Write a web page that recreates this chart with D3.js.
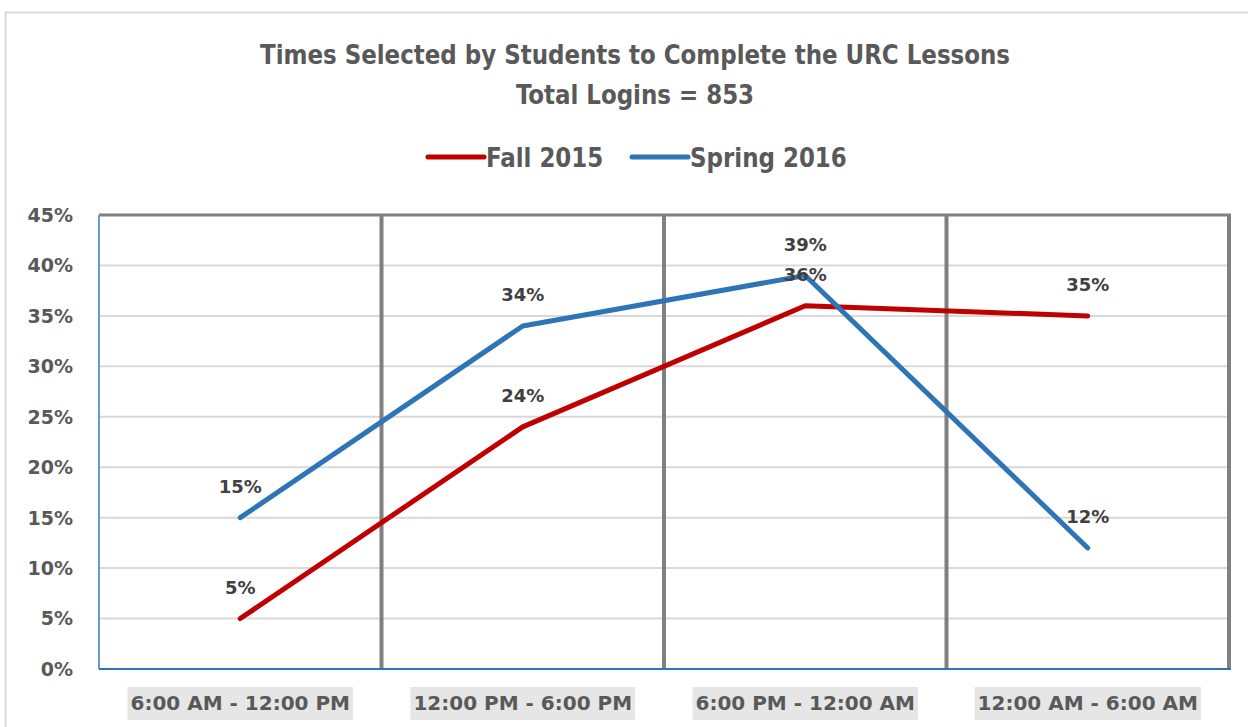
<!DOCTYPE html>
<html lang="en">
<head>
<meta charset="UTF-8">
<title>Times Selected by Students</title>
<script src="https://d3js.org/d3.v7.min.js"></script>
<style>
  body { margin: 0; background: #fff; }
  svg { display: block; }
</style>
</head>
<body>
<div id="chart"></div>
<script>
// data
const categories = ["6:00 AM - 12:00 PM", "12:00 PM - 6:00 PM", "6:00 PM - 12:00 AM", "12:00 AM - 6:00 AM"];
const fall2015 = [5, 24, 36, 35];
const spring2016 = [15, 34, 39, 12];
const yTicks = [0, 5, 10, 15, 20, 25, 30, 35, 40, 45];
const seriesNames = ["Fall 2015", "Spring 2016"];
const seriesColors = ["#c00000", "#2e75b6"];

const W = 1248, H = 727;
const plot = { left: 99, right: 1229, top: 215, bottom: 669 };
const narrow = "'Liberation Sans Narrow', 'DejaVu Sans Condensed', sans-serif";
const wide = "'DejaVu Sans', Verdana, sans-serif";

const svg = d3.select("#chart").append("svg")
    .attr("width", W).attr("height", H);

// squeeze condensed text a bit so it looks like Calibri
function condense(sel, ratio) {
    sel.each(function () {
        const w = this.getComputedTextLength();
        d3.select(this).attr("textLength", w * ratio).attr("lengthAdjust", "spacingAndGlyphs");
    });
}

// outer chart frame
svg.append("rect")
    .attr("x", 5.5).attr("y", 12.5)
    .attr("width", W + 20).attr("height", H + 20)
    .attr("fill", "white").attr("stroke", "#d9d9d9").attr("stroke-width", 2);

// titles
const titles = svg.append("g")
    .selectAll("text")
    .data(["Times Selected by Students to Complete the URC Lessons", "Total Logins = 853"])
    .join("text")
    .attr("x", 635).attr("y", (d, i) => 64 + i * 40)
    .attr("text-anchor", "middle")
    .style("font-family", narrow).style("font-weight", "bold")
    .style("font-size", "27px").attr("fill", "#595959")
    .text(d => d);
condense(titles, 0.945);

// scales
const x = d3.scaleBand().domain(categories).range([plot.left, plot.right]);
const y = d3.scaleLinear().domain([0, 45]).range([plot.bottom, plot.top]);

// horizontal gridlines
svg.append("g")
    .selectAll("line")
    .data(yTicks.filter(t => t > 0 && t < 45))
    .join("line")
    .attr("x1", plot.left).attr("x2", plot.right)
    .attr("y1", d => y(d)).attr("y2", d => y(d))
    .attr("stroke", "#d9d9d9").attr("stroke-width", 2);

// top border
svg.append("line")
    .attr("x1", plot.left).attr("x2", plot.right + 2)
    .attr("y1", y(45)).attr("y2", y(45))
    .attr("stroke", "#808080").attr("stroke-width", 3);

// vertical separators between categories
svg.append("g")
    .selectAll("line")
    .data(categories)
    .join("line")
    .attr("x1", d => x(d) + x.bandwidth()).attr("x2", d => x(d) + x.bandwidth())
    .attr("y1", plot.top).attr("y2", plot.bottom)
    .attr("stroke", "#808080").attr("stroke-width", 4);

// left axis line
svg.append("line")
    .attr("x1", plot.left).attr("x2", plot.left)
    .attr("y1", plot.top).attr("y2", plot.bottom)
    .attr("stroke", "#6a9ccc").attr("stroke-width", 2);

// bottom axis line
svg.append("line")
    .attr("x1", plot.left).attr("x2", plot.right + 2)
    .attr("y1", plot.bottom).attr("y2", plot.bottom)
    .attr("stroke", "#2e75b6").attr("stroke-width", 2);

// y tick labels
svg.append("g")
    .selectAll("text")
    .data(yTicks)
    .join("text")
    .attr("x", 73).attr("y", d => y(d))
    .attr("dy", "0.36em")
    .attr("text-anchor", "end")
    .style("font-family", wide).style("font-weight", "bold")
    .style("font-size", "19px").attr("fill", "#595959")
    .text(d => d + "%");

// category labels with grey boxes
const catG = svg.append("g")
    .selectAll("g")
    .data(categories)
    .join("g")
    .attr("transform", d => `translate(${x(d) + x.bandwidth() / 2}, 703)`);
catG.append("text")
    .attr("text-anchor", "middle")
    .attr("dy", "0.36em")
    .style("font-family", wide).style("font-weight", "bold")
    .style("font-size", "20px").attr("fill", "#595959")
    .text(d => d);
catG.each(function () {
    const t = d3.select(this).select("text");
    const w = t.node().getComputedTextLength();
    d3.select(this).insert("rect", "text")
        .attr("x", -w / 2 - 3).attr("y", -16)
        .attr("width", w + 6).attr("height", 33)
        .attr("fill", "#e6e6e6");
});

// lines
const line = d3.line()
    .x((d, i) => x(categories[i]) + x.bandwidth() / 2)
    .y(d => y(d));

const seriesData = [fall2015, spring2016];
seriesData.forEach((vals, s) => {
    svg.append("path")
        .datum(vals)
        .attr("d", line)
        .attr("fill", "none")
        .attr("stroke", seriesColors[s])
        .attr("stroke-width", 5)
        .attr("stroke-linecap", "round")
        .attr("stroke-linejoin", "round");
});

// data labels
seriesData.forEach((vals, s) => {
    svg.append("g")
        .selectAll("text")
        .data(vals)
        .join("text")
        .attr("x", (d, i) => x(categories[i]) + x.bandwidth() / 2)
        .attr("y", d => y(d) - 31)
        .attr("dy", "0.36em")
        .attr("text-anchor", "middle")
        .style("font-family", wide).style("font-weight", "bold")
        .style("font-size", "18px").attr("fill", "#404040")
        .text(d => d + "%");
});

// legend
const legendX = [428, 632];
seriesNames.forEach((name, s) => {
    svg.append("line")
        .attr("x1", legendX[s]).attr("x2", legendX[s] + 56)
        .attr("y1", 157).attr("y2", 157)
        .attr("stroke", seriesColors[s]).attr("stroke-width", 5)
        .attr("stroke-linecap", "round");
    const t = svg.append("text")
        .attr("x", legendX[s] + 58).attr("y", 157)
        .attr("dy", "0.36em")
        .style("font-family", narrow).style("font-weight", "bold")
        .style("font-size", "27px").attr("fill", "#595959")
        .text(name);
    condense(t, 0.945);
});
</script>
</body>
</html>
